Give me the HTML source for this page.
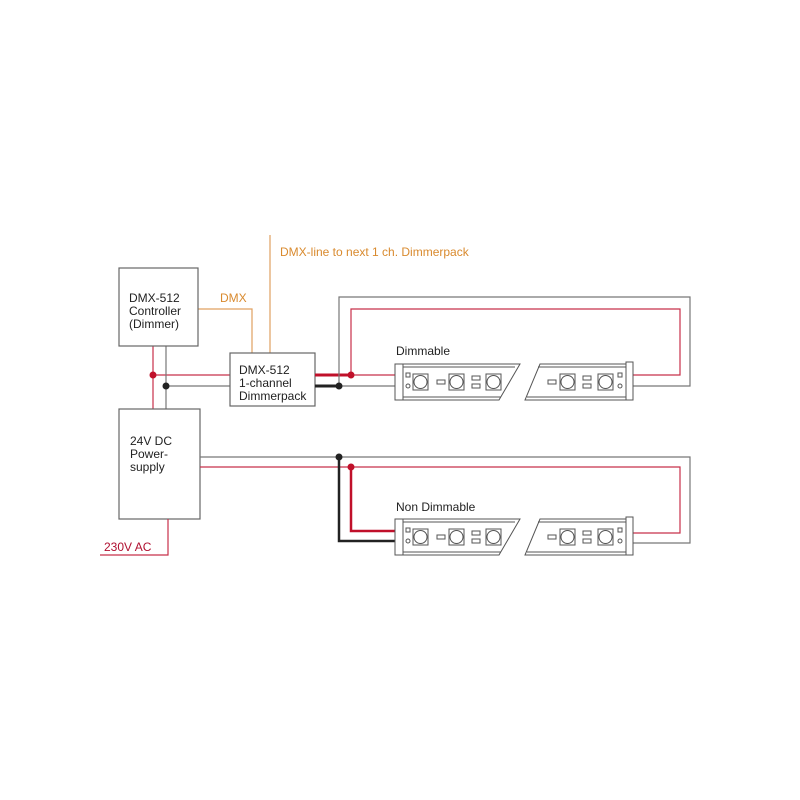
<!DOCTYPE html>
<html><head><meta charset="utf-8"><style>
html,body{margin:0;padding:0;background:#fff;}
svg{display:block;}
text{font-family:"Liberation Sans",sans-serif;font-size:12px;}
</style></head><body>
<svg width="800" height="800" viewBox="0 0 800 800" xmlns="http://www.w3.org/2000/svg">
<defs>
<g id="s1" fill="none" stroke="#555" stroke-width="1">
  <rect x="395" y="364" width="8" height="36" fill="#fff"/>
  <path d="M403 364 L520 364 L499 400 L403 400 Z" fill="#fff"/>
  <path d="M403 367 L515 367 M403 397 L501 397"/>
  <rect x="406" y="373" width="4" height="4"/>
  <circle cx="408" cy="386" r="2"/>
  <rect x="413" y="374" width="15" height="16"/><circle cx="420.5" cy="382" r="6.5"/>
  <rect x="437" y="380" width="8" height="4"/>
  <rect x="449" y="374" width="15" height="16"/><circle cx="456.5" cy="382" r="6.5"/>
  <rect x="472" y="376" width="8" height="4"/><rect x="472" y="384" width="8" height="4"/>
  <rect x="486" y="374" width="15" height="16"/><circle cx="493.5" cy="382" r="6.5"/>
</g>
<g id="s2" fill="none" stroke="#555" stroke-width="1">
  <path d="M540 364 L626 364 L626 400 L525 400 Z" fill="#fff"/>
  <rect x="626" y="362" width="7" height="38" fill="#fff"/>
  <path d="M538 367 L626 367 M527 397 L626 397"/>
  <rect x="548" y="380" width="8" height="4"/>
  <rect x="560" y="374" width="15" height="16"/><circle cx="567.5" cy="382" r="6.5"/>
  <rect x="583" y="376" width="8" height="4"/><rect x="583" y="384" width="8" height="4"/>
  <rect x="598" y="374" width="15" height="16"/><circle cx="605.5" cy="382" r="6.5"/>
  <rect x="618" y="373" width="4" height="4"/>
  <circle cx="620" cy="386" r="2"/>
</g>
</defs>

<!-- orange DMX lines -->
<g stroke="#e0a060" stroke-width="1.2" fill="none">
  <path d="M198 309 L252 309 L252 353"/>
  <path d="M270 235 L270 353"/>
</g>
<text x="280" y="256" fill="#d98a2e">DMX-line to next 1 ch. Dimmerpack</text>
<text x="220" y="302" fill="#d98a2e">DMX</text>

<!-- left vertical wires -->
<path d="M153 346 L153 409 M153 375 L230 375" stroke="#c8304a" stroke-width="1.2" fill="none"/>
<path d="M166 346 L166 409 M166 386 L230 386" stroke="#777" stroke-width="1.2" fill="none"/>
<circle cx="153" cy="375" r="3.5" fill="#c0102a"/>
<circle cx="166" cy="386" r="3.5" fill="#222"/>

<!-- boxes -->
<rect x="119" y="268" width="79" height="78" fill="#fff" stroke="#666" stroke-width="1.2"/>
<text x="129" y="302" fill="#222">DMX-512</text>
<text x="129" y="315" fill="#222">Controller</text>
<text x="129" y="328" fill="#222">(Dimmer)</text>

<rect x="230" y="353" width="85" height="53" fill="#fff" stroke="#666" stroke-width="1.2"/>
<text x="239" y="374" fill="#222">DMX-512</text>
<text x="239" y="387" fill="#222">1-channel</text>
<text x="239" y="400" fill="#222">Dimmerpack</text>

<rect x="119" y="409" width="81" height="110" fill="#fff" stroke="#666" stroke-width="1.2"/>
<text x="130" y="445" fill="#222">24V DC</text>
<text x="130" y="458" fill="#222">Power-</text>
<text x="130" y="471" fill="#222">supply</text>

<!-- 230V AC -->
<path d="M168 519 L168 555 L100 555" stroke="#c8304a" stroke-width="1.2" fill="none"/>
<text x="104" y="551" fill="#b01030">230V AC</text>

<!-- upper dimmable wiring -->
<path d="M315 375 L351 375" stroke="#c0102a" stroke-width="3"/>
<path d="M315 386 L339 386" stroke="#222" stroke-width="3"/>
<path d="M351 375 L395 375 M351 375 L351 309 L680 309 L680 375 L633 375" stroke="#c8304a" stroke-width="1.2" fill="none"/>
<path d="M339 386 L395 386 M339 386 L339 297 L690 297 L690 386 L633 386" stroke="#777" stroke-width="1.2" fill="none"/>
<circle cx="351" cy="375" r="3.5" fill="#c0102a"/>
<circle cx="339" cy="386" r="3.5" fill="#222"/>
<text x="396" y="355" fill="#222">Dimmable</text>
<use href="#s1"/>
<use href="#s2"/>

<!-- lower non dimmable wiring -->
<path d="M200 457 L690 457 L690 543 L633 543" stroke="#777" stroke-width="1.2" fill="none"/>
<path d="M200 467 L680 467 L680 533 L633 533" stroke="#c8304a" stroke-width="1.2" fill="none"/>
<path d="M339 457 L339 541 L395 541" stroke="#222" stroke-width="2.5" fill="none"/>
<path d="M351 467 L351 531 L395 531" stroke="#c0102a" stroke-width="2.5" fill="none"/>
<circle cx="339" cy="457" r="3.5" fill="#222"/>
<circle cx="351" cy="467" r="3.5" fill="#c0102a"/>
<text x="396" y="511" fill="#222">Non Dimmable</text>
<g transform="translate(0,155)">
<use href="#s1"/>
<use href="#s2"/>
</g>
</svg>
</body></html>
